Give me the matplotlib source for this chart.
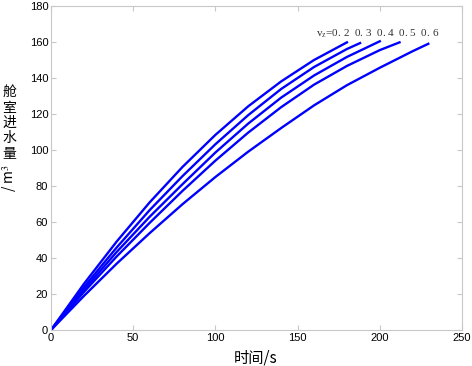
import matplotlib
matplotlib.use("Agg")
import matplotlib.pyplot as plt

plt.rcParams["mathtext.fontset"] = "stix"

# 舱室进水量 vs time for five v_z values
t_02 = [0, 20, 40, 60, 80, 100, 120, 140, 160, 180]
y_02 = [0, 25.6, 49.2, 70.9, 90.6, 108.4, 124.3, 138.1, 150.0, 159.8]

t_03 = [0, 20, 40, 60, 80, 100, 120, 140, 160, 180, 188]
y_03 = [0, 23.8, 45.9, 66.6, 85.5, 103.2, 119.4, 133.9, 146.1, 156.1, 159.4]

t_04 = [0, 20, 40, 60, 80, 100, 120, 140, 160, 180, 200]
y_04 = [0, 22.4, 43.4, 62.9, 81.0, 98.6, 114.7, 129.1, 141.4, 151.7, 160.4]

t_05 = [0, 20, 40, 60, 80, 100, 120, 140, 160, 180, 200, 212]
y_05 = [0, 21.1, 40.9, 59.5, 77.3, 94.1, 109.7, 123.8, 136.3, 146.7, 155.5, 159.8]

t_06 = [0, 20, 40, 60, 80, 100, 120, 140, 160, 180, 200, 220, 229.5]
y_06 = [0, 18.9, 36.9, 53.8, 69.9, 85.0, 99.1, 112.2, 124.8, 136.0, 145.7, 154.9, 159.0]

series = [(t_02, y_02), (t_03, y_03), (t_04, y_04), (t_05, y_05), (t_06, y_06)]
x_ticks = [0, 50, 100, 150, 200, 250]
y_ticks = [0, 20, 40, 60, 80, 100, 120, 140, 160, 180]

CJK = ["Noto Sans CJK SC", "DejaVu Sans"]
FRAME = "#c8c8c8"

fig = plt.figure(figsize=(4.72, 3.66), dpi=100)
ax = fig.add_axes([51 / 472, 1 - 330 / 366, 411 / 472, 324 / 366])

for t, y in series:
    ax.plot(t, y, color="#0000ff", lw=1.7, solid_joinstyle="round")

ax.set_xlim(0, 250)
ax.set_ylim(0, 180)
ax.set_xticks(x_ticks)
ax.set_yticks(y_ticks)
ax.tick_params(direction="in", length=3.5, width=0.8, color=FRAME,
               top=True, right=True, labelsize=8, pad=2)
for lab in ax.get_xticklabels() + ax.get_yticklabels():
    lab.set_family("Liberation Sans")
for s in ax.spines.values():
    s.set_color(FRAME)
    s.set_linewidth(0.8)

ax.text(0.645, 0.914, r"v$_\mathrm{z}$=0. 2  0. 3  0. 4  0. 5  0. 6", transform=ax.transAxes,
        family="Liberation Serif", fontsize=8, color="#333333", ha="left", va="center")

fig.text(256 / 472, 1 - 358 / 366, "时间/s", family=CJK, fontsize=11,
         ha="center", va="center")
fig.text(9 / 472, 1 - 123 / 366, "舱\n室\n进\n水\n量", family=CJK, fontsize=10,
         ha="center", va="center", linespacing=1.12)
fig.text(10 / 472, 1 - 178 / 366, "/ m$^3$", family=CJK, fontsize=10,
         rotation=90, ha="center", va="center")

fig.savefig("out.png", dpi=100)
